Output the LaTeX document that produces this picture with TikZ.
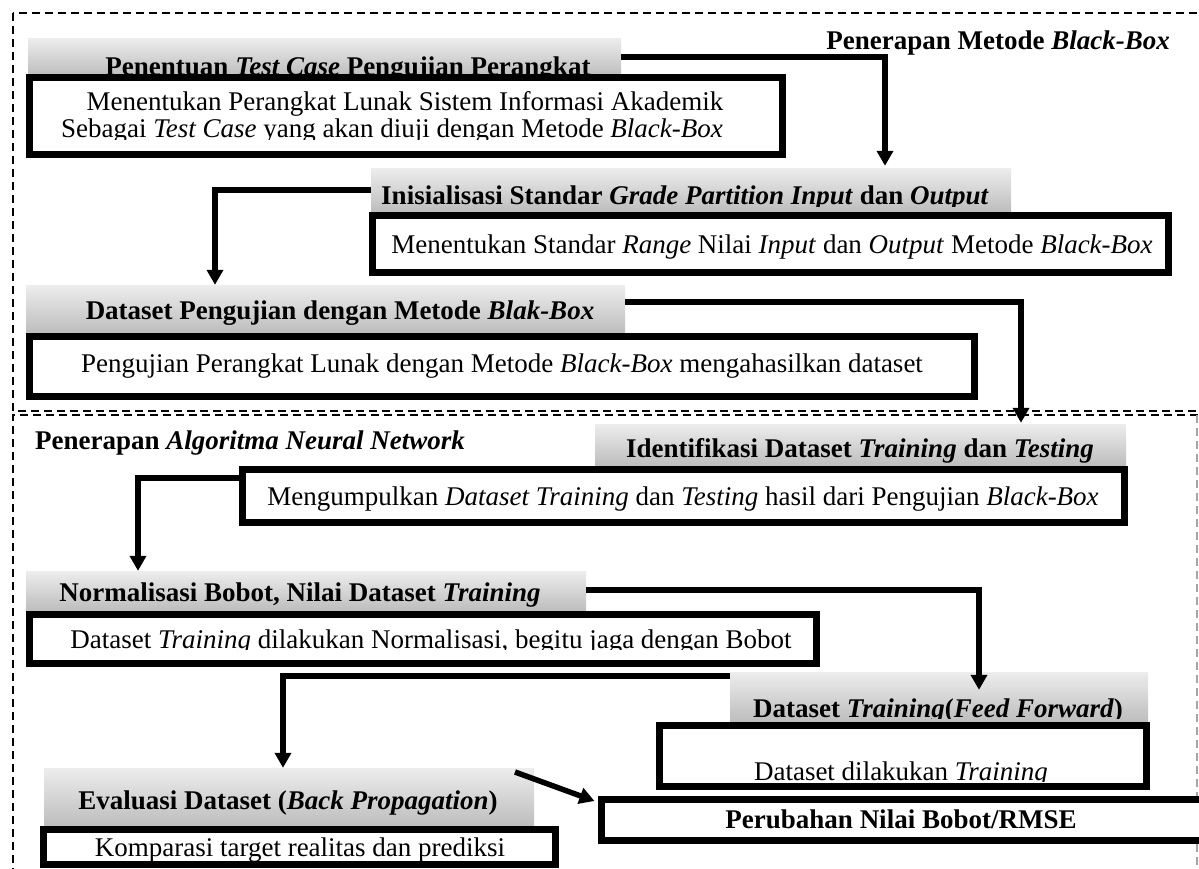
\documentclass[tikz,border=0pt]{standalone}
\usepackage{fontspec}
\setmainfont{Liberation Serif}
\usetikzlibrary{arrows.meta,fit,calc}
\tikzset{
  frame/.style={dash pattern=on 8pt off 5pt, line width=2.2pt},
  tabbox/.style={inner sep=0pt, top color=black!7, bottom color=black!26, draw=none},
  stepbox/.style={inner sep=0pt, draw=black, line width=7pt, fill=white},
  txt/.style={anchor=base, inner sep=0pt, font=\fontsize{27}{31}\selectfont},
  btxt/.style={anchor=base, inner sep=0pt, font=\fontsize{27}{31}\selectfont\bfseries},
  arr/.style={line width=5.5pt, -{Triangle[width=16pt,length=15pt]}},
}
\begin{document}
\begin{tikzpicture}[x=1pt,y=-1pt]
\clip (0,0) rectangle (1199,868);
% frames
\draw[frame] (13,13) rectangle (1260,411);
\draw[frame] (1198,415) -- (13,415) -- (13,900);
\draw[frame, black!35] (1197,415) -- (1197,900);
\node[btxt, anchor=base east] (h1) at (1170,49) {Penerapan Metode \textit{Black-Box}};
\node[btxt, anchor=base west] (h2) at (35,449) {Penerapan \textit{Algoritma Neural Network}};
% tabs
\node[tabbox, fit={(28,38) (621,76)}] (t1) {};
\node[tabbox, fit={(371,168) (1011,212)}] (t2) {};
\node[tabbox, fit={(26,285) (625,333)}] (t3) {};
\node[tabbox, fit={(595,424) (1126,466)}] (t4) {};
\node[tabbox, fit={(26,571) (586,611)}] (t5) {};
\node[tabbox, fit={(730,672) (1148,722)}] (t6) {};
\node[tabbox, fit={(44,768) (534,826)}] (t7) {};
% tab texts
\node[btxt] (t1l) at (348,75) {Penentuan \textit{Test Case} Pengujian Perangkat};
\begin{scope}
\clip (371,150) rectangle (1011,206);
\node[btxt] (t2l) at (685,204) {Inisialisasi Standar \textit{Grade Partition Input} dan \textit{Output}};
\end{scope}
\node[btxt] (t3l) at (340,319) {Dataset Pengujian dengan Metode \textit{Blak-Box}};
\node[btxt] (t4l) at (860,457) {Identifikasi Dataset \textit{Training} dan \textit{Testing}};
\node[btxt] (t5l) at (300,601) {Normalisasi Bobot, Nilai Dataset \textit{Training}};
\begin{scope}
\clip (730,660) rectangle (1148,718);
\node[btxt] (t6l) at (938,717) {Dataset \textit{Training}(\textit{Feed Forward})};
\end{scope}
\node[btxt] (t7l) at (288,809) {Evaluasi Dataset (\textit{Back Propagation})};
% boxes
\node[stepbox, fit={(29.5,77.5) (782.5,154.5)}] (b1) {};
\node[stepbox, fit={(372.5,215.5) (1168.5,272.5)}] (b2) {};
\node[stepbox, fit={(29.5,336.5) (974.5,396.5)}] (b3) {};
\node[stepbox, fit={(242.5,469.5) (1124.5,522.5)}] (b4) {};
\node[stepbox, fit={(29.5,614.5) (816.5,663.5)}] (b5) {};
\node[stepbox, fit={(659.5,725.5) (1146.5,786.5)}] (b6) {};
\node[stepbox, fit={(43.5,829.5) (555.5,864.5)}] (b7) {};
\node[stepbox, fit={(601.5,799.5) (1212,840.5)}] (b8) {};
% box texts
\node[txt] (b1a) at (405,110) {Menentukan Perangkat Lunak Sistem Informasi Akademik};
\begin{scope}
\clip (29,80) rectangle (783,139);
\node[txt] (b1b) at (392,137) {Sebagai \textit{Test Case} yang akan diuji dengan Metode \textit{Black-Box}};
\end{scope}
\node[txt] (b2l) at (772,253) {Menentukan Standar \textit{Range} Nilai \textit{Input} dan \textit{Output} Metode \textit{Black-Box}};
\node[txt] (b3l) at (502,372) {Pengujian Perangkat Lunak dengan Metode \textit{Black-Box} mengahasilkan dataset};
\node[txt] (b4l) at (683,505) {Mengumpulkan \textit{Dataset Training} dan \textit{Testing} hasil dari Pengujian \textit{Black-Box}};
\begin{scope}
\clip (29,614) rectangle (817,649);
\node[txt] (b5l) at (431,648) {Dataset \textit{Training} dilakukan Normalisasi, begitu jaga dengan Bobot};
\end{scope}
\begin{scope}
\clip (659,725) rectangle (1147,781);
\node[txt] (b6l) at (901,780) {Dataset dilakukan \textit{Training}};
\end{scope}
\node[txt] (b7l) at (300,856) {Komparasi target realitas dan prediksi};
\node[btxt] (b8l) at (901,828) {Perubahan Nilai Bobot/RMSE};
% connectors
\coordinate (c1) at (885,57);
\coordinate (c2) at (215,190);
\coordinate (c3) at (1021,302);
\coordinate (c4) at (138,478);
\coordinate (c5) at (979,590);
\coordinate (c6) at (283,676);
\coordinate (c7) at (515,772);
\draw[arr] (t1.east) -- (c1) -- ($(c1 |- t2.north)+(0,-2)$);
\draw[arr] (t2.west) -- (c2) -- (c2 |- t3.north);
\draw[arr] (t3.east |- c3) -- (c3) -- ($(c3 |- t4.north)+(0,-1)$);
\draw[arr] (b4.west |- c4) -- (c4) -- (c4 |- t5.north);
\draw[arr] (t5.east |- c5) -- (c5) -- ($(c5 |- t6.north)+(0,18)$);
\draw[arr] (t6.west |- c6) -- (c6) -- (c6 |- t7.north);
\draw[arr] (c7) -- ($(b8.north west)+(-3.5,5)$);
\end{tikzpicture}
\end{document}
